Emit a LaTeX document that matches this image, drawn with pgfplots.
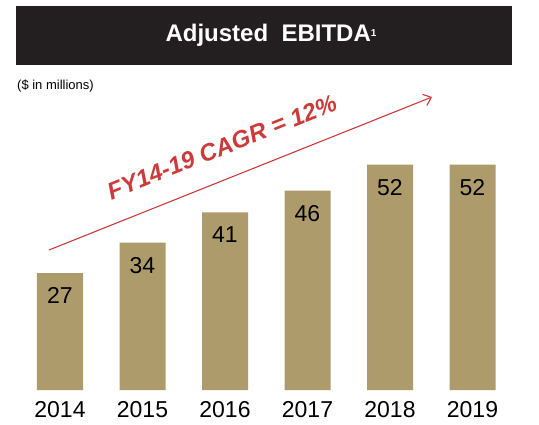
\documentclass[border=0pt]{standalone}
\usepackage{fontspec}
\setmainfont{Liberation Sans}
\usepackage{pgfplots}
\pgfplotsset{compat=1.18}
\usetikzlibrary{arrows.meta}
\definecolor{barTan}{HTML}{AD9B6B}
\definecolor{cagrRed}{HTML}{CC3A3A}
\definecolor{titleBlack}{HTML}{231F20}
\begin{document}
\begin{tikzpicture}[x=1pt,y=1pt]
\useasboundingbox (-18.75,-34) rectangle (520.25,390);
% title bar
\fill[titleBlack] (-2.75,325) rectangle (493.25,384);
\node[text=white, font=\fontsize{24}{28}\selectfont\bfseries] at (252.25,354.5)
  {Adjusted\ \ EBITDA\raisebox{5pt}{\fontsize{10}{12}\selectfont 1}};
\node[anchor=west, inner sep=0pt, font=\fontsize{13}{15}\selectfont] at (-1.75,304) {(\$ in millions)};
\begin{axis}[
    at={(0,0)}, anchor=south west,
    scale only axis,
    width=495pt, height=260pt,
    xmin=-0.5, xmax=5.5,
    ymin=0, ymax=60,
    axis line style={draw=none},
    tick style={draw=none},
    ytick=\empty,
    xtick={0,1,2,3,4,5},
    xticklabels={2014,2015,2016,2017,2018,2019},
    xticklabel style={font=\fontsize{23}{26}\selectfont, yshift=-4pt},
    /pgf/number format/assume math mode=true,
    ybar, bar width=46pt, bar shift=0pt,
    nodes near coords,
    nodes near coords align=below,
    every node near coord/.append style={font=\fontsize{23}{26}\selectfont, text=black, yshift=-11pt},
    clip=false,
  ]
  \addplot[fill=barTan, draw=none] coordinates {
    (0,27) (1,34) (2,41) (3,46) (4,52) (5,52)
  };
\end{axis}
% CAGR arrow and label
\draw[cagrRed, line width=1.1pt, -{Straight Barb[length=7pt,width=12pt]}] (30.25,140) -- (413.25,293);
\node[text=cagrRed, rotate=21.8, font=\fontsize{24}{28}\selectfont\bfseries\itshape] at (203.25,243) {FY14-19 CAGR = 12\%};
\end{tikzpicture}
\end{document}
